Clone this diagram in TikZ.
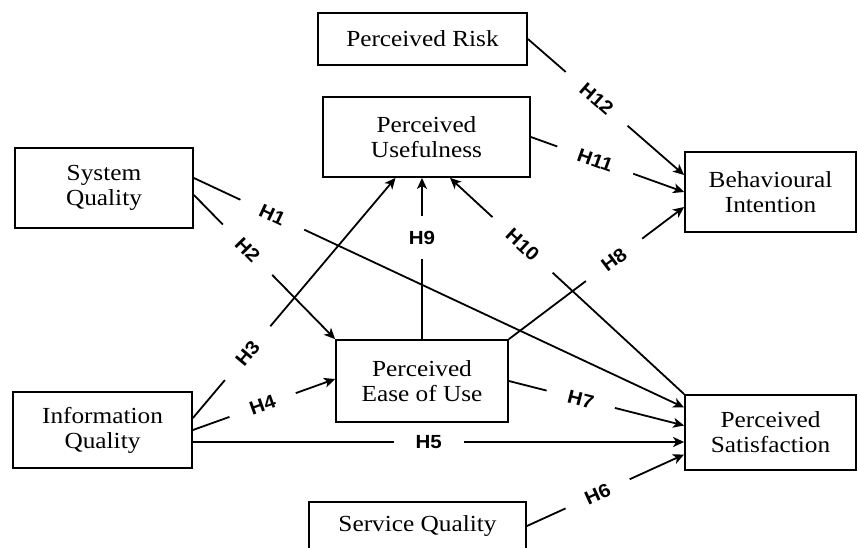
\documentclass[tikz,border=0pt]{standalone}
\usepackage{fontspec}
\setmainfont{Liberation Serif}[FakeStretch=1.1]
\newfontfamily\hfont{Liberation Sans}[FakeStretch=1.08]
\usetikzlibrary{arrows.meta}
\tikzset{
  box/.style={draw, line width=1.8pt, align=center, inner sep=0pt,
    font=\fontsize{23}{25}\selectfont},
  arr/.style={line width=1.8pt, -{Stealth[length=11pt,width=10pt,inset=3pt]}},
  hyp/.style={fill=white, sloped, inner xsep=22pt, inner ysep=1pt,
    font=\hfont\bfseries\fontsize{19}{19}\selectfont}
}
\begin{document}
\begin{tikzpicture}[x=1pt,y=-1pt]
\useasboundingbox (0,0) rectangle (858,547);
\clip (0,0) rectangle (858,547);
% constructs
\node[box, minimum width=209pt, minimum height=52pt] (pr) at (422.5,39) {Perceived Risk};
\node[box, minimum width=207pt, minimum height=80pt] (pu) at (426.5,137) {Perceived\\Usefulness};
\node[box, minimum width=178pt, minimum height=80pt] (sq) at (104,188) {System\\Quality};
\node[box, minimum width=171pt, minimum height=80pt] (bi) at (770.5,192) {Behavioural\\Intention};
\node[box, minimum width=172pt, minimum height=82pt] (peu) at (422,381) {Perceived\\Ease of Use};
\node[box, minimum width=179pt, minimum height=76pt] (iq) at (102.5,430) {Information\\Quality};
\node[box, minimum width=171pt, minimum height=75pt] (ps) at (770.5,432.5) {Perceived\\Satisfaction};
\node[box, minimum width=217pt, minimum height=48pt] (svq) at (417.5,526) {Service Quality};
% hypotheses
\draw[arr] ([yshift=10pt]sq.east) -- ([yshift=25pt]ps.west) node[hyp, pos=.16] {H1};
\draw[arr] ([yshift=-7pt]sq.east) -- (peu.north west) node[hyp, pos=.38] {H2};
\draw[arr] ([yshift=12pt]iq.east) -- ([xshift=-31pt]pu.south) node[hyp, pos=.27] {H3};
\draw[arr] (iq.east) -- ([yshift=2pt]peu.west) node[hyp, pos=.49] {H4};
\draw[arr] ([yshift=-12pt]iq.east) coordinate (h5) -- (h5 -| ps.west) node[hyp, pos=.48] {H5};
\draw[arr] (svq.east) -- ([yshift=-22pt]ps.west) node[hyp, pos=.45] {H6};
\draw[arr] (peu.east) -- ([yshift=7pt]ps.west) node[hyp, pos=.41] {H7};
\draw[arr] (peu.north east) -- ([yshift=-15pt]bi.west) node[hyp, pos=.6] {H8};
\draw[arr] (peu.north) -- (peu.north |- pu.south)
  node[hyp, sloped=false, inner xsep=2pt, inner ysep=15pt, pos=.63] {H9};
\draw[arr] (ps.north west) -- ([xshift=23.5pt]pu.south) node[hyp, pos=.69] {H10};
\draw[arr] (pu.east) -- (bi.west) node[hyp, pos=.42] {H11};
\draw[arr] (pr.east) -- ([yshift=17pt]bi.west) node[hyp, pos=.44] {H12};
\end{tikzpicture}
\end{document}
